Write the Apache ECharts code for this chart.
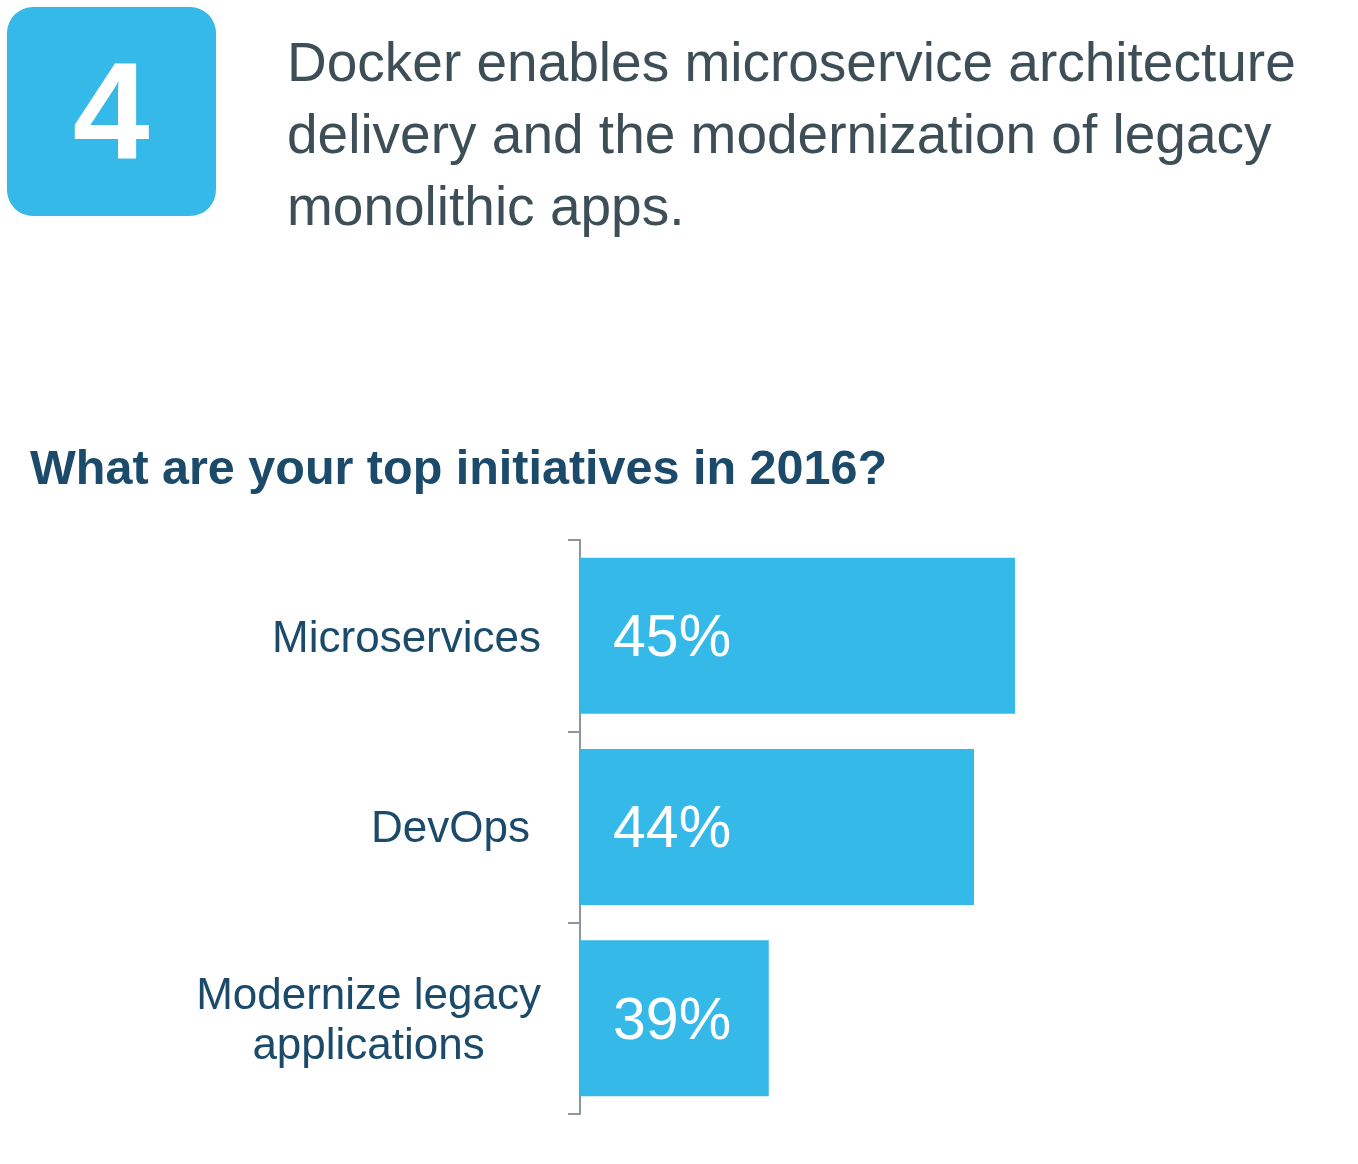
<!DOCTYPE html>
<html>
<head>
<meta charset="utf-8">
<script src="https://cdn.jsdelivr.net/npm/echarts@6/dist/echarts.min.js"></script>
<style>
    html, body { margin: 0; padding: 0; background: #fff; }
    #chart_content { width: 1358px; height: 1164px; }
</style>
</head>
<body>
<div id="chart_content"></div>
<script>
// 数据
var categories = ["Microservices", "DevOps", "Modernize legacy\napplications"];
var values = [45, 44, 39];
var value_labels = ["45%", "44%", "39%"];

var bar_color = "#35b9e8";
var navy = "#1b4a6a";

var chart = echarts.init(document.getElementById("chart_content"));
var option = {
    backgroundColor: "#fff",
    title: {
        text: "What are your top initiatives in 2016?",
        left: 30,
        top: 446,
        padding: 0,
        textStyle: {
            fontFamily: "Liberation Sans",
            fontWeight: "bold",
            fontSize: 48.5,
            color: navy
        }
    },
    graphic: [
        {
            type: "rect",
            shape: { x: 7, y: 7, width: 209, height: 209, r: 26 },
            style: { fill: bar_color }
        },
        {
            type: "text",
            x: 111, y: 120,
            style: {
                text: "4",
                fill: "#fff",
                font: "bold 138px 'Liberation Sans'",
                align: "center",
                verticalAlign: "middle"
            }
        },
        {
            type: "text",
            x: 287, y: 30,
            style: {
                text: "Docker enables microservice architecture\ndelivery and the modernization of legacy\nmonolithic apps.",
                fill: "#3d4e56",
                font: "55px 'Liberation Sans'",
                lineHeight: 72
            }
        }
    ],
    grid: {
        left: 580,
        right: 343,
        top: 540,
        bottom: 50,
        containLabel: false
    },
    xAxis: {
        type: "value",
        min: 34.4,
        max: 45,
        show: false
    },
    yAxis: {
        type: "category",
        inverse: true,
        data: categories,
        axisLine: { show: true, lineStyle: { color: "#8c969e", width: 2 } },
        axisTick: { show: true, length: 12, lineStyle: { color: "#8c969e", width: 2 } },
        axisLabel: {
            margin: 39,
            color: navy,
            fontFamily: "Liberation Sans",
            fontSize: 44,
            lineHeight: 50,
            formatter: function (v) {
                if (v === "DevOps") return "{d|" + v + "}";
                return v.split("\n").map(function (s) { return "{c|" + s + "}"; }).join("\n");
            },
            rich: {
                c: {
                    align: "center",
                    color: navy,
                    fontFamily: "Liberation Sans",
                    fontSize: 44,
                    lineHeight: 50,
                    padding: [8, 0, 0, 0]
                },
                d: {
                    color: navy,
                    fontFamily: "Liberation Sans",
                    fontSize: 44,
                    lineHeight: 50,
                    padding: [6, 11, 0, 0]
                }
            }
        },
        splitLine: { show: false }
    },
    series: [{
        type: "bar",
        data: values,
        barWidth: 156,
        itemStyle: { color: bar_color },
        label: {
            show: true,
            position: "insideLeft",
            distance: 33,
            offset: [0, 4],
            color: "#fff",
            fontFamily: "Liberation Sans",
            fontSize: 59,
            formatter: function (p) { return value_labels[p.dataIndex]; }
        },
        silent: true
    }],
    animation: false
};
chart.setOption(option, true);
window.onresize = function () {
    chart.resize();
};
</script>
</body>
</html>
